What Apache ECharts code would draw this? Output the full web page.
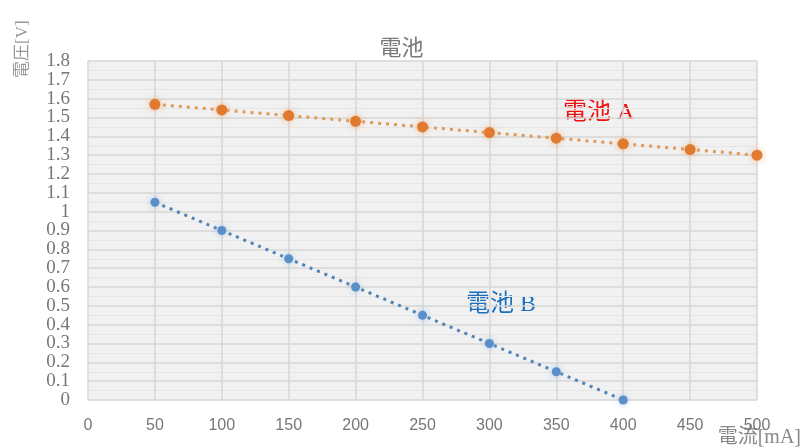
<!DOCTYPE html>
<html><head><meta charset="utf-8">
<script src="https://cdn.jsdelivr.net/npm/echarts@6/dist/echarts.min.js"></script>
<style>html,body{margin:0;padding:0;background:#fff}#c{width:803px;height:448px}</style>
</head><body><div id="c"></div>
<script>
const currentA = [50,100,150,200,250,300,350,400,450,500];
const voltageA = [1.57,1.54,1.51,1.48,1.45,1.42,1.39,1.36,1.33,1.30];
const currentB = [50,100,150,200,250,300,350,400];
const voltageB = [1.05,0.90,0.75,0.60,0.45,0.30,0.15,0.00];
const yTickLabels = ['0','0.1','0.2','0.3','0.4','0.5','0.6','0.7','0.8','0.9','1','1.1','1.2','1.3','1.4','1.5','1.6','1.7','1.8'];

const chart = echarts.init(document.getElementById('c'));
const zip = (xs, ys) => xs.map((x,i)=>[x, ys[i]]);
chart.setOption({
  animation:false,
  backgroundColor:'#fff',
  title:{text:'電池', left:'center', top:31, textStyle:{fontFamily:'Noto Sans CJK JP', fontSize:22, fontWeight:'normal', color:'#7a7a7a'}},
  grid:{left:88, right:46, top:61, bottom:48, show:true, backgroundColor:'#f1f1f1', borderWidth:0, containLabel:false, outerBoundsMode:'none'},
  xAxis:{type:'value', min:0, max:500, interval:50,
    axisLine:{show:false}, axisTick:{show:false},
    axisLabel:{fontFamily:'Liberation Sans', fontSize:16, color:'#777', margin:18, showMinLabel:true, showMaxLabel:true, hideOverlap:false},
    splitLine:{show:true, lineStyle:{color:'#d6d6d6', width:1.5}}},
  yAxis:{type:'value', min:0, max:1.8, interval:0.1,
    axisLine:{show:false}, axisTick:{show:false},
    axisLabel:{fontFamily:'Liberation Serif', fontSize:19, color:'#777', margin:18, showMinLabel:true, showMaxLabel:true, hideOverlap:false,
      formatter:(v)=>yTickLabels[Math.round(v*10)]},
    splitLine:{show:true, lineStyle:{color:'#d6d6d6', width:1.5}},
    minorTick:{show:false, splitNumber:2},
    minorSplitLine:{show:true, lineStyle:{color:'#e6e6e6', width:1}}},
  series:[
    {type:'line', data:zip(currentA, voltageA), symbol:'circle', symbolSize:11,
     itemStyle:{color:'#e07a30', shadowBlur:6, shadowColor:'rgba(240,170,110,0.8)'},
     lineStyle:{color:'#e0995a', width:3, type:[3,5]}},
    {type:'line', data:zip(currentB, voltageB), symbol:'circle', symbolSize:9,
     itemStyle:{color:'#5b8fc8', shadowBlur:6, shadowColor:'rgba(150,190,230,0.8)'},
     lineStyle:{color:'#4f82ba', width:3, type:[3,5]}}
  ],
  graphic:[
    {type:'text', left:563, top:101, style:{text:'電池 A', fill:'#ee1111', font:'24px "Liberation Serif", "Noto Sans CJK JP"'}},
    {type:'text', left:466, top:293, style:{text:'電池 B', fill:'#1c6fbf', font:'24px "Liberation Serif", "Noto Sans CJK JP"'}},
    {type:'text', right:2, bottom:0, style:{text:'電流[mA]', fill:'#888', font:'20px "Liberation Serif", "Noto Sans CJK JP"'}},
    {type:'text', x:31, y:78, rotation:Math.PI/2, style:{text:'電圧[V]', x:0, y:0, fill:'#999', font:'17px "Liberation Serif", "Noto Sans CJK JP"', align:'left', verticalAlign:'bottom'}}
  ]
});
</script></body></html>
